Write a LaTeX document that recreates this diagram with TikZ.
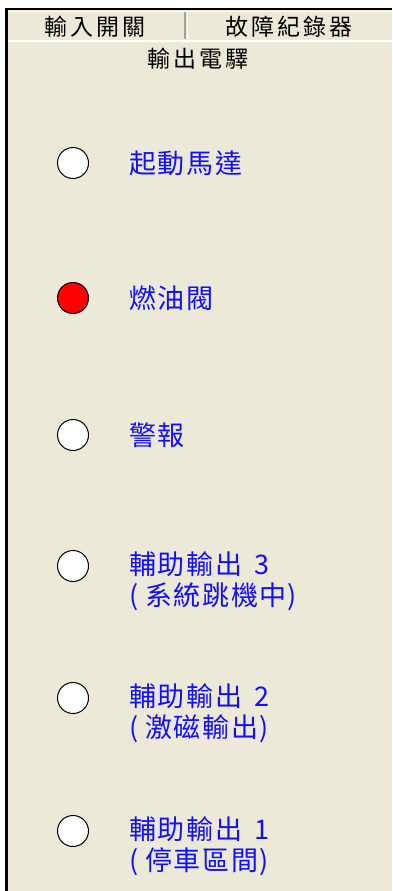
\documentclass[tikz,border=0pt]{standalone}
\usepackage{fontspec}
\newfontfamily\cjkhead[LetterSpace=14]{Noto Sans CJK TC}
\newfontfamily\cjkbody[LetterSpace=6]{Noto Sans CJK TC}
\definecolor{panel}{HTML}{ECE9D8}
\definecolor{sepgray}{HTML}{A0A0A0}
\definecolor{lblue}{HTML}{1010FF}
\definecolor{lampred}{HTML}{FF0000}
\newcommand{\lp}{(\hspace{7pt}}
\newcommand{\rp}{\hspace{1pt})}
\tikzset{
  headtxt/.style={font=\cjkhead\fontsize{23}{26}\selectfont, text=black, inner sep=0pt},
  lbl/.style={font=\cjkbody\fontsize{27}{31}\selectfont, text=lblue, inner sep=0pt, anchor=west, align=left},
  lampoff/.style={circle, draw=black, line width=1pt, fill=white, minimum size=31pt, inner sep=0pt},
  lampon/.style={circle, draw=black, line width=1pt, fill=lampred, minimum size=31pt, inner sep=0pt}
}
\begin{document}
\begin{tikzpicture}[x=1pt,y=-1pt]
\useasboundingbox (0,0) rectangle (392,891);
\fill[white] (0,0) rectangle (392,891);
\fill[panel] (8,10) rectangle (392,891);
% frame
\draw[black, line width=2pt] (5,9) -- (392,9);
\draw[black, line width=3pt] (6.5,8) -- (6.5,891);
\draw[white, line width=1pt] (8,11.5) -- (392,11.5);
\draw[white, line width=1.5pt] (8,41) -- (392,41);
% tab separator
\draw[sepgray, line width=2pt] (185,12) -- (185,39);
\draw[white, line width=1pt] (187.5,12) -- (187.5,39);
% header texts
\node[headtxt] (tab1) at (95,27) {輸入開關};
\node[headtxt] (tab2) at (289,27) {故障紀錄器};
\node[headtxt] (title) at (198,59) {輸出電驛};
% lamps
\node[lampoff] (l1) at (73,163) {};
\node[lampon]  (l2) at (73,298) {};
\node[lampoff] (l3) at (73,435) {};
\node[lampoff] (l4) at (73,566) {};
\node[lampoff] (l5) at (73,698) {};
\node[lampoff] (l6) at (73,831) {};
% labels
\node[lbl] (t1) at (129,163) {起動馬達};
\node[lbl] (t2) at (129,298) {燃油閥};
\node[lbl] (t3) at (129,435) {警報};
\node[lbl] (t4) at (129,581) {輔助輸出\hspace{12pt}3\\\lp 系統跳機中\rp};
\node[lbl] (t5) at (129,713) {輔助輸出\hspace{12pt}2\\\lp 激磁輸出\rp};
\node[lbl] (t6) at (129,846) {輔助輸出\hspace{12pt}1\\\lp 停車區間\rp};
\end{tikzpicture}
\end{document}
